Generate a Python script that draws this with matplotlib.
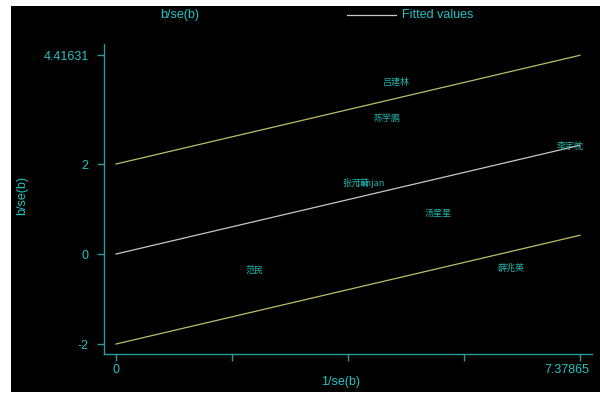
import matplotlib
matplotlib.use("Agg")
import matplotlib.pyplot as plt
from matplotlib.lines import Line2D
import matplotlib.transforms as mtransforms
import numpy as np

# Data
names = ["吕建林", "陈学鹏", "李宇忱", "张元萌", "Tanjan", "汤星星", "范民", "薛兆英"]
inv_se = [4.20, 4.05, 6.96, 3.55, 3.77, 4.86, 2.02, 6.03]
z_vals = [3.82, 3.00, 2.40, 1.58, 1.56, 0.91, -0.36, -0.31]
slope = 0.32747
x_max = 7.37865
y_ticks = [-2, 0, 2, 4.41631]
y_tick_labels = ["-2", "0", "2", "4.41631"]
x_ticks = [0, x_max / 4, x_max / 2, 3 * x_max / 4, x_max]
x_tick_labels = ["0", "", "", "", "7.37865"]

TEAL = "#22c4c4"
LABEL = "#22b4ac"
AXIS = "#2a9a9a"
OLIVE = "#bdbd6a"
GREY = "#c8c8c8"

plt.rcParams['font.family'] = ['Liberation Sans', 'Noto Sans CJK SC', 'DejaVu Sans']

fig = plt.figure(figsize=(6.08, 3.97), dpi=100)
fig.patch.set_facecolor("white")
W, H = 608, 397
bg = fig.add_axes([11 / W, 1 - 392 / H, (600 - 11) / W, (392 - 6) / H], zorder=-10)
bg.set_facecolor("black")
bg.set_xticks([]); bg.set_yticks([])
for s in bg.spines.values():
    s.set_visible(False)

ax = fig.add_axes([104 / W, 1 - 354 / H, (592 - 104) / W, (354 - 44) / H])
ax.set_facecolor("black")
ax.set_xlim(-0.191, 7.57)
ax.set_ylim(-2.222, 4.667)

xs = np.array([0, x_max])
ax.plot(xs, slope * xs + 2, color=OLIVE, lw=0.9)
ax.plot(xs, slope * xs, color=GREY, lw=0.9)
ax.plot(xs, slope * xs - 2, color=OLIVE, lw=0.9)

for n, x, y in zip(names, inv_se, z_vals):
    ax.annotate(n, (x, y), xytext=(2, 0), textcoords="offset points",
                ha="left", va="center", color=LABEL, fontsize=6.5,
                family=['Noto Sans CJK SC', 'Liberation Sans'])

for s in ["top", "right"]:
    ax.spines[s].set_visible(False)
for s in ["left", "bottom"]:
    ax.spines[s].set_color(AXIS)
    ax.spines[s].set_linewidth(1.0)

ax.set_yticks(y_ticks)
ax.set_yticklabels(y_tick_labels)
ax.set_xticks(x_ticks)
ax.set_xticklabels(x_tick_labels)
ax.tick_params(axis="both", colors=AXIS, labelcolor=TEAL, labelsize=9, width=1)
ax.tick_params(axis="y", length=5, pad=6)
ax.tick_params(axis="x", length=5, pad=2)

# shift the last x tick label left like the reference
lbl = ax.get_xticklabels()[-1]
lbl.set_transform(lbl.get_transform() + mtransforms.ScaledTranslation(-13 / 100, 0, fig.dpi_scale_trans))

ax.set_xlabel("1/se(b)", color=TEAL, fontsize=9)
ax.xaxis.set_label_coords(341 / W, 1 - 382 / H, transform=fig.transFigure)
ax.xaxis.label.set_va("center")
ax.set_ylabel("b/se(b)", color=TEAL, fontsize=9)
ax.yaxis.set_label_coords(22 / W, 1 - 195 / H, transform=fig.transFigure)
ax.yaxis.label.set_va("center")

# Legend
fig.text(180 / W, 1 - 15 / H, "b/se(b)", color=TEAL, fontsize=9, ha="center", va="center")
fig.lines.append(Line2D([347 / W, 396 / W], [1 - 15 / H, 1 - 15 / H],
                        transform=fig.transFigure, color=GREY, lw=0.9))
fig.text(402 / W, 1 - 15 / H, "Fitted values", color=TEAL, fontsize=9, ha="left", va="center")

fig.savefig("out.png", dpi=100, facecolor="white")
